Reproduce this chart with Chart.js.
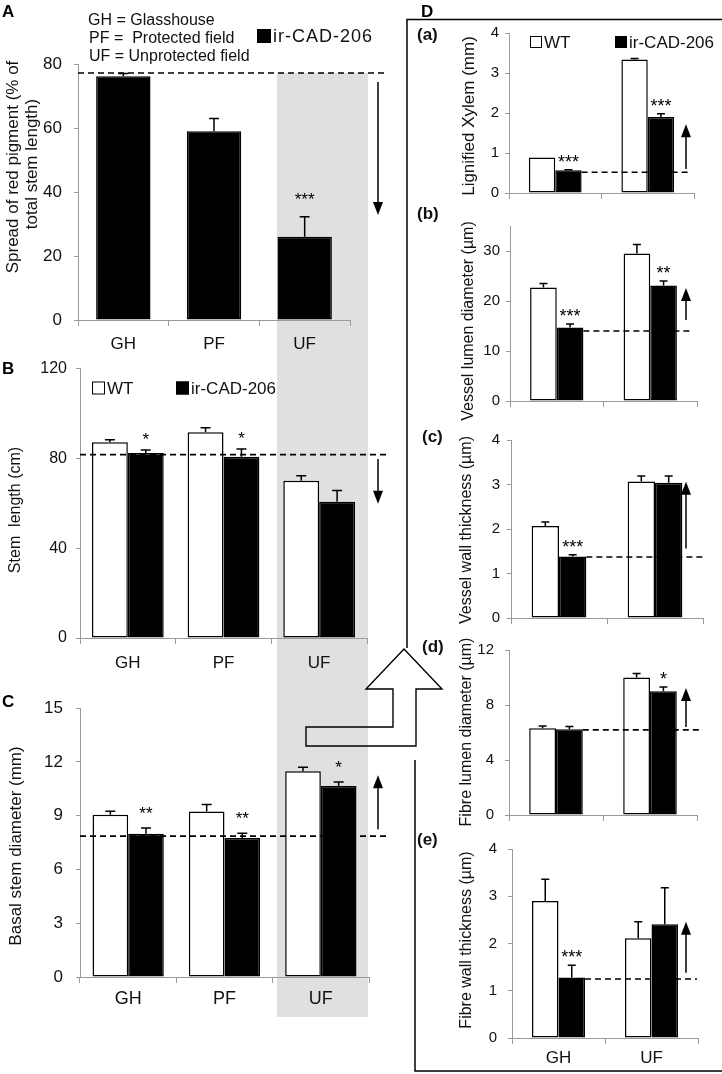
<!DOCTYPE html>
<html>
<head>
<meta charset="utf-8">
<script src="https://cdn.jsdelivr.net/npm/chart.js@4.4.1/dist/chart.umd.min.js"></script>
<style>
  body { margin: 0; background: #fff; width: 722px; height: 1074px; position: relative; overflow: hidden; }
  canvas { position: absolute; }
  #sombra { position: absolute; left: 277px; top: 73px; width: 91px; height: 944px; background: #e0e0e0; }
  #marco { left: 0; top: 0; pointer-events: none; }
</style>
</head>
<body>
<div id="sombra"></div>
<canvas id="cA"></canvas>
<canvas id="cB"></canvas>
<canvas id="cC"></canvas>
<canvas id="cDa"></canvas>
<canvas id="cDb"></canvas>
<canvas id="cDc"></canvas>
<canvas id="cDd"></canvas>
<canvas id="cDe"></canvas>
<canvas id="marco" width="722" height="1074"></canvas>
<script>
/* Datos */
var sitios3 = ["GH", "PF", "UF"];
var sitios2 = ["GH", "UF"];

// A - pigmento rojo (% del tallo)
var pigIr = [76.2, 59.0, 26.0];
var pigIrErr = [0.8, 4.0, 6.3];
var pigEst = ["", "", "***"];
var pigRef = 77.2;
var pigFlecha = [74.4, 32.8];
var ticksA = [0, 20, 40, 60, 80];

// B - longitud del tallo (cm)
var largoWT = [87.2, 91.6, 70.0];
var largoWTErr = [1.1, 2.0, 2.3];
var largoIr = [82.4, 80.7, 60.7];
var largoIrErr = [1.3, 3.5, 5.0];
var largoEst = ["*", "*", ""];
var largoRef = 81.7;
var largoFlecha = [79.7, 59.8];
var ticksB = [0, 40, 80, 120];

// C - diámetro basal (mm)
var diamWT = [9.05, 9.23, 11.48];
var diamWTErr = [0.2, 0.4, 0.22];
var diamIr = [8.0, 7.75, 10.66];
var diamIrErr = [0.31, 0.27, 0.22];
var diamEst = ["**", "**", "*"];
var diamRef = 7.86;
var diamFlecha = [8.24, 11.26];
var ticksC = [0, 3, 6, 9, 12, 15];

// D(a) - xilema lignificado (mm)
var xilWT = [0.89, 3.34];
var xilWTErr = [0, 0.02];
var xilIr = [0.57, 1.9];
var xilIrErr = [0.01, 0.08];
var xilEst = ["***", "***"];
var xilRef = 0.52;
var xilFlecha = [0.6, 1.72];
var ticksDa = [0, 1, 2, 3, 4];

// D(b) - diámetro lumen vaso (µm)
var vlumWT = [22.7, 29.5];
var vlumWTErr = [0.8, 1.8];
var vlumIr = [14.7, 23.1];
var vlumIrErr = [0.7, 0.9];
var vlumEst = ["***", "**"];
var vlumRef = 14.0;
var vlumFlecha = [16.2, 22.6];
var ticksDb = [0, 10, 20, 30];

// D(c) - grosor pared vaso (µm)
var vparWT = [2.07, 3.07];
var vparWTErr = [0.09, 0.12];
var vparIr = [1.38, 3.04];
var vparIrErr = [0.04, 0.15];
var vparEst = ["***", ""];
var vparRef = 1.37;
var vparFlecha = [1.56, 3.06];
var ticksDc = [0, 1, 2, 3, 4];

// D(d) - diámetro lumen fibra (µm)
var flumWT = [6.31, 10.0];
var flumWTErr = [0.16, 0.3];
var flumIr = [6.24, 9.0];
var flumIrErr = [0.19, 0.31];
var flumEst = ["", "*"];
var flumRef = 6.19;
var flumFlecha = [6.4, 9.23];
var ticksDd = [0, 4, 8, 12];

// D(e) - grosor pared fibra (µm)
var fparWT = [2.9, 2.11];
var fparWTErr = [0.46, 0.35];
var fparIr = [1.28, 2.41];
var fparIrErr = [0.26, 0.77];
var fparEst = ["***", ""];
var fparRef = 1.25;
var fparFlecha = [1.38, 2.46];
var ticksDe = [0, 1, 2, 3, 4];

var FUENTE = '"Liberation Sans", Arial, Helvetica, sans-serif';
Chart.defaults.font.family = FUENTE;
Chart.defaults.color = '#111';
var GRIS = '#9a9a9a';

/* Plugin: barras de error, asteriscos, línea de referencia, flecha y textos */
var extras = {
  id: 'extras',
  afterDatasetsDraw: function(chart, args, o) {
    var ctx = chart.ctx, ys = chart.scales.y;
    ctx.save();
    chart.data.datasets.forEach(function(ds, i) {
      chart.getDatasetMeta(i).data.forEach(function(bar, j) {
        var e = ds.err ? ds.err[j] : 0;
        var yTop = ys.getPixelForValue(ds.data[j] + e);
        if (e > 0) {
          ctx.strokeStyle = '#000';
          ctx.lineWidth = 1.5;
          ctx.beginPath();
          ctx.moveTo(bar.x, bar.y);
          ctx.lineTo(bar.x, yTop);
          ctx.moveTo(bar.x - o.cap, yTop);
          ctx.lineTo(bar.x + o.cap, yTop);
          ctx.stroke();
        }
        if (ds.stars && ds.stars[j]) {
          ctx.fillStyle = '#000';
          ctx.font = o.starSize + 'px ' + FUENTE;
          ctx.textAlign = 'center';
          ctx.textBaseline = 'middle';
          ctx.fillText(ds.stars[j], bar.x, yTop - o.starGap + 4);
        }
      });
    });
    ctx.restore();
  },
  afterDraw: function(chart, args, o) {
    var ctx = chart.ctx, ys = chart.scales.y, area = chart.chartArea;
    ctx.save();
    ctx.strokeStyle = '#000';
    ctx.fillStyle = '#000';

    // línea discontinua de referencia
    var yRef = ys.getPixelForValue(o.ref);
    var x0 = area.left;
    if (o.refFromBar) {
      var b = chart.getDatasetMeta(chart.data.datasets.length - 1).data[0];
      x0 = b.x + b.width / 2;
    }
    ctx.setLineDash([6, 4]);
    ctx.lineWidth = 1.6;
    ctx.beginPath();
    ctx.moveTo(x0, yRef);
    ctx.lineTo(o.refEnd - o.ox, yRef);
    ctx.stroke();
    ctx.setLineDash([]);

    // flecha vertical
    var ax = o.arrowX - o.ox;
    var y1 = ys.getPixelForValue(o.arrow[0]);
    var y2 = ys.getPixelForValue(o.arrow[1]);
    var dir = y2 > y1 ? 1 : -1;
    ctx.lineWidth = 1.5;
    ctx.beginPath();
    ctx.moveTo(ax, y1);
    ctx.lineTo(ax, y2 - dir * 10);
    ctx.stroke();
    ctx.beginPath();
    ctx.moveTo(ax, y2);
    ctx.lineTo(ax - 5, y2 - dir * 13);
    ctx.lineTo(ax + 5, y2 - dir * 13);
    ctx.closePath();
    ctx.fill();

    // textos en coordenadas de página
    ctx.translate(-o.ox, -o.oy);
    (o.titulo || []).forEach(function(t) {
      ctx.save();
      ctx.translate(t.x, t.y);
      ctx.rotate(-Math.PI / 2);
      ctx.font = t.size + 'px ' + FUENTE;
      ctx.textAlign = 'center';
      ctx.textBaseline = 'middle';
      ctx.fillStyle = '#111';
      ctx.fillText(t.text, 0, 0);
      ctx.restore();
    });
    (o.notas || []).forEach(function(t) {
      ctx.font = (t.bold ? 'bold ' : '') + t.size + 'px ' + FUENTE;
      ctx.textAlign = 'left';
      ctx.textBaseline = 'middle';
      ctx.fillStyle = '#111';
      ctx.fillText(t.text, t.x, t.y);
    });
    (o.leyenda || []).forEach(function(l) {
      var ds = chart.data.datasets[l.ds];
      ctx.fillStyle = ds.backgroundColor;
      ctx.fillRect(l.x, l.y - l.sq / 2, l.sq, l.sq);
      ctx.strokeStyle = '#000';
      ctx.lineWidth = 1;
      ctx.strokeRect(l.x + 0.5, l.y - l.sq / 2 + 0.5, l.sq - 1, l.sq - 1);
      ctx.fillStyle = '#111';
      ctx.font = l.size + 'px ' + FUENTE;
      ctx.textAlign = 'left';
      ctx.textBaseline = 'middle';
      if (l.ls) ctx.letterSpacing = l.ls + 'px';
      ctx.fillText(ds.label, l.x + l.sq + 2, l.y + 1);
      ctx.letterSpacing = '0px';
    });
    ctx.restore();
  }
};

function serie(label, data, err, stars, negro) {
  return {
    label: label,
    data: data,
    err: err,
    stars: stars,
    backgroundColor: negro ? '#000' : '#fff',
    borderColor: '#000',
    borderWidth: 1.5,
    borderSkipped: false
  };
}

function grafico(id, caja, cfg) {
  var cv = document.getElementById(id);
  cv.width = caja.w;
  cv.height = caja.h;
  cv.style.left = caja.x + 'px';
  cv.style.top = caja.y + 'px';
  var yW = caja.l - caja.x;
  var xH = caja.y + caja.h - caja.b;
  cfg.extras.ox = caja.x;
  cfg.extras.oy = caja.y;
  return new Chart(cv, {
    type: 'bar',
    data: { labels: cfg.labels, datasets: cfg.datasets },
    options: {
      responsive: false,
      animation: false,
      events: [],
      layout: { padding: { top: caja.t - caja.y, right: caja.x + caja.w - caja.r, left: 0, bottom: 0 } },
      datasets: { bar: { categoryPercentage: cfg.cat, barPercentage: cfg.barPct } },
      plugins: {
        legend: { display: false },
        tooltip: { enabled: false },
        extras: cfg.extras
      },
      scales: {
        x: {
          grid: { offset: true, drawOnChartArea: false, drawTicks: true, tickLength: 6, color: GRIS },
          border: { color: GRIS },
          ticks: { display: cfg.xLabels, color: '#111', font: { size: cfg.xSize }, padding: cfg.xPad, maxRotation: 0 },
          afterFit: function(s) { s.height = xH; }
        },
        y: {
          min: 0,
          max: cfg.yMax,
          afterBuildTicks: function(s) { s.ticks = cfg.ticks.map(function(v) { return { value: v }; }); },
          afterFit: function(s) { s.width = yW; },
          grid: { drawOnChartArea: false, drawTicks: true, tickLength: 4, color: GRIS },
          border: { color: GRIS },
          ticks: { color: '#111', font: { size: cfg.ySize }, padding: cfg.yPad }
        }
      }
    },
    plugins: [extras]
  });
}

/* A */
grafico("cA", { x: 0, y: 0, w: 400, h: 365, l: 78, t: 64, r: 350, b: 320 }, {
  labels: sitios3,
  datasets: [serie("ir-CAD-206", pigIr, pigIrErr, pigEst, true)],
  cat: 1, barPct: 0.6, ticks: ticksA, yMax: 80,
  xLabels: true, xSize: 17, xPad: 8, ySize: 17, yPad: 12,
  extras: {
    cap: 5, starSize: 17, starGap: 20,
    ref: pigRef, refEnd: 386, arrow: pigFlecha, arrowX: 378,
    titulo: [
      { text: "Spread of red pigment (% of", x: 13, y: 167, size: 17 },
      { text: "total stem length)", x: 32, y: 164, size: 17 }
    ],
    notas: [
      { text: "GH = Glasshouse", x: 88, y: 21, size: 16 },
      { text: "PF =  Protected field", x: 89, y: 39, size: 16 },
      { text: "UF = Unprotected field", x: 89, y: 57, size: 16 }
    ],
    leyenda: [{ ds: 0, x: 257, y: 36, sq: 14, size: 18, ls: 1 }]
  }
});

/* B */
grafico("cB", { x: 0, y: 350, w: 400, h: 335, l: 80, t: 367, r: 367, b: 638 }, {
  labels: sitios3,
  datasets: [serie("WT", largoWT, largoWTErr, null, false), serie("ir-CAD-206", largoIr, largoIrErr, largoEst, true)],
  cat: 0.75, barPct: 1, ticks: ticksB, yMax: 120,
  xLabels: true, xSize: 17, xPad: 9, ySize: 16, yPad: 9,
  extras: {
    cap: 5, starSize: 17, starGap: 14,
    ref: largoRef, refEnd: 387, arrow: largoFlecha, arrowX: 378,
    titulo: [{ text: "Stem  length (cm)", x: 16, y: 510, size: 16 }],
    leyenda: [
      { ds: 0, x: 92, y: 388, sq: 13, size: 17 },
      { ds: 1, x: 176, y: 388, sq: 13, size: 17 }
    ]
  }
});

/* C */
grafico("cC", { x: 0, y: 685, w: 400, h: 340, l: 80, t: 704, r: 369, b: 977 }, {
  labels: sitios3,
  datasets: [serie("WT", diamWT, diamWTErr, null, false), serie("ir-CAD-206", diamIr, diamIrErr, diamEst, true)],
  cat: 0.74, barPct: 1, ticks: ticksC, yMax: 15,
  xLabels: true, xSize: 18, xPad: 5, ySize: 17, yPad: 13,
  extras: {
    cap: 5, starSize: 17, starGap: 18,
    ref: diamRef, refEnd: 387, arrow: diamFlecha, arrowX: 378,
    titulo: [{ text: "Basal stem diameter (mm)", x: 16, y: 846, size: 17 }]
  }
});

/* D (a)-(e) */
function panelD(id, caja, wt, wtErr, ir, irErr, est, ticks, yMax, ref, refEnd, flecha, titulo, etiqueta, etY, extra) {
  var cfg = {
    labels: sitios2,
    datasets: [serie("WT", wt, wtErr, null, false), serie("ir-CAD-206", ir, irErr, est, true)],
    cat: 0.57, barPct: 1, ticks: ticks, yMax: yMax,
    xLabels: !!extra.xLabels, xSize: 17, xPad: 4, ySize: 15, yPad: extra.yPad,
    extras: {
      cap: 4, starSize: 18, starGap: 11,
      ref: ref, refFromBar: true, refEnd: refEnd, arrow: flecha, arrowX: 686,
      titulo: [titulo],
      notas: [{ text: etiqueta, x: extra.etX, y: etY, size: 17, bold: true }],
      leyenda: extra.leyenda || []
    }
  };
  return grafico(id, caja, cfg);
}

panelD("cDa", { x: 400, y: 18, w: 322, h: 190, l: 509, t: 32, r: 694, b: 204 },
  xilWT, xilWTErr, xilIr, xilIrErr, xilEst, ticksDa, 4, xilRef, 690, xilFlecha,
  { text: "Lignified Xylem (mm)", x: 469, y: 116, size: 17 }, "(a)", 35,
  { yPad: 6, etX: 417, leyenda: [
    { ds: 0, x: 530, y: 42, sq: 12, size: 17 },
    { ds: 1, x: 615, y: 42, sq: 12, size: 17 }
  ] });

panelD("cDb", { x: 400, y: 200, w: 322, h: 226, l: 510, t: 226, r: 697, b: 401 },
  vlumWT, vlumWTErr, vlumIr, vlumIrErr, vlumEst, ticksDb, 35, vlumRef, 693, vlumFlecha,
  { text: "Vessel lumen diameter (µm)", x: 469, y: 321, size: 16 }, "(b)", 214,
  { yPad: 6, etX: 417 });

panelD("cDc", { x: 400, y: 424, w: 322, h: 210, l: 511, t: 440, r: 703, b: 618 },
  vparWT, vparWTErr, vparIr, vparIrErr, vparEst, ticksDc, 4, vparRef, 706, vparFlecha,
  { text: "Vessel wall thickness (µm)", x: 467, y: 530, size: 16 }, "(c)", 437,
  { yPad: 7, etX: 422 });

panelD("cDd", { x: 400, y: 630, w: 322, h: 205, l: 509, t: 648, r: 697, b: 824 },
  flumWT, flumWTErr, flumIr, flumIrErr, flumEst, ticksDd, 12, flumRef, 700, flumFlecha,
  { text: "Fibre lumen diameter (µm)", x: 467, y: 732, size: 16 }, "(d)", 647,
  { yPad: 11, etX: 422 });

panelD("cDe", { x: 400, y: 828, w: 322, h: 246, l: 512, t: 849, r: 698, b: 1038 },
  fparWT, fparWTErr, fparIr, fparIrErr, fparEst, ticksDe, 4, fparRef, 697, fparFlecha,
  { text: "Fibre wall thickness (µm)", x: 467, y: 940, size: 16 }, "(e)", 840,
  { yPad: 11, etX: 417, xLabels: true });

/* Marco de D, flecha grande y letras de los paneles */
var m = document.getElementById("marco").getContext("2d");
m.strokeStyle = '#000';
m.lineWidth = 1.5;
m.beginPath();
m.moveTo(722, 19.5); m.lineTo(407, 19.5); m.lineTo(407, 648);
m.moveTo(415, 760); m.lineTo(415, 1071); m.lineTo(722, 1071);
m.stroke();

m.lineWidth = 1.4;
m.beginPath();
m.moveTo(404, 649);
m.lineTo(442, 689);
m.lineTo(416, 689);
m.lineTo(416, 746);
m.lineTo(306, 746);
m.lineTo(306, 727);
m.lineTo(393, 727);
m.lineTo(393, 689);
m.lineTo(366, 689);
m.closePath();
m.stroke();

m.fillStyle = '#000';
m.font = 'bold 17px ' + FUENTE;
m.textBaseline = 'alphabetic';
m.fillText("A", 2, 17);
m.fillText("B", 2, 374);
m.fillText("C", 2, 707);
m.fillText("D", 421, 17);
</script>
</body>
</html>
